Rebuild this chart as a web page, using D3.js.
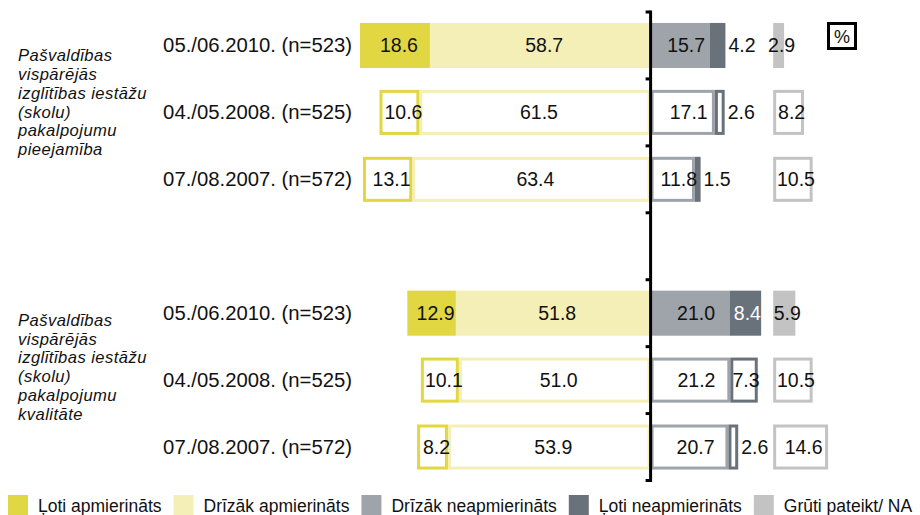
<!DOCTYPE html>
<html>
<head>
<meta charset="utf-8">
<script src="https://cdn.jsdelivr.net/npm/d3@7"></script>
<style>
  html, body { margin: 0; padding: 0; background: #fff; }
  svg text { font-family: "Liberation Sans", Arial, sans-serif; fill: #111; }
</style>
</head>
<body>
<svg id="chart" width="920" height="515"></svg>
<script>
// ---- data ----
const seriesNames = ["Ļoti apmierināts", "Drīzāk apmierināts", "Drīzāk neapmierināts", "Ļoti neapmierināts", "Grūti pateikt/ NA"];
const rowLabels = ["05./06.2010. (n=523)", "04./05.2008. (n=525)", "07./08.2007. (n=572)",
                   "05./06.2010. (n=523)", "04./05.2008. (n=525)", "07./08.2007. (n=572)"];
const groupLines = [
  ["Pašvaldības", "vispārējās", "izglītības iestāžu", "(skolu)", "pakalpojumu", "pieejamība"],
  ["Pašvaldības", "vispārējās", "izglītības iestāžu", "(skolu)", "pakalpojumu", "kvalitāte"]
];
const lotiApm     = [18.6, 10.6, 13.1, 12.9, 10.1, 8.2];
const drizakApm   = [58.7, 61.5, 63.4, 51.8, 51.0, 53.9];
const drizakNeapm = [15.7, 17.1, 11.8, 21.0, 21.2, 20.7];
const lotiNeapm   = [4.2, 2.6, 1.5, 8.4, 7.3, 2.6];
const gruti       = [2.9, 8.2, 10.5, 5.9, 10.5, 14.6];
const unitLabel = "%";

// ---- styles ----
const colors = ["#e0d743", "#f4eeb7", "#9ea4aa", "#69717a", "#c3c3c3"];
const svg = d3.select("#chart");

// slots: 3 rows, spacer, 3 rows
const slots = ["r0", "r1", "r2", "gap", "r3", "r4", "r5"];
const slotOf = i => "r" + i;
const y = d3.scaleBand().domain(slots).range([12, 480.5]).padding(0);
const barH = y.bandwidth() * 0.673;
const cy = i => y(slotOf(i)) + y.bandwidth() / 2;

const x = d3.scaleLinear().domain([-80, 40]).range([349.8, 801]); // x(0) ~ 650
const x0 = x(0);
const naOffset = 32.6; // start of "Grūti pateikt" column in value units

// build segments
const segs = [];
rowLabels.forEach((lab, i) => {
  const filled = (i % 3 === 0);
  const a = lotiApm[i], b = drizakApm[i], c = drizakNeapm[i], d = lotiNeapm[i], e = gruti[i];
  segs.push({ i, s: 1, v0: -b, v1: 0, v: b, filled });
  segs.push({ i, s: 0, v0: -(a + b), v1: -b, v: a, filled });
  segs.push({ i, s: 2, v0: 0, v1: c, v: c, filled });
  segs.push({ i, s: 3, v0: c, v1: c + d, v: d, filled });
  segs.push({ i, s: 4, v0: naOffset, v1: naOffset + e, v: e, filled });
});

const sw = 3;
const g = svg.append("g");
g.selectAll("rect.seg").data(segs).join("rect")
  .attr("class", "seg")
  .attr("x", d => d.filled ? x(d.v0) : x(d.v0) + sw / 2)
  .attr("y", d => d.filled ? cy(d.i) - barH / 2 : cy(d.i) - barH / 2 + sw / 2)
  .attr("width", d => d.filled ? x(d.v1) - x(d.v0) : Math.max(0.5, x(d.v1) - x(d.v0) - sw))
  .attr("height", d => d.filled ? barH : barH - sw)
  .attr("fill", d => d.filled ? colors[d.s] : "#fff")
  .attr("stroke", d => d.filled ? "none" : colors[d.s])
  .attr("stroke-width", sw);

// value labels
const numFont = 19.5;
g.selectAll("text.val").data(segs).join("text")
  .attr("class", "val")
  .attr("font-size", numFont)
  .attr("dominant-baseline", "central")
  .attr("text-anchor", d => (d.s === 3 && d.v < 5) ? "start" : "middle")
  .attr("x", d => {
    if (d.s === 3 && d.v < 5) return x(d.v1) + 3;
    const mid = (x(d.v0) + x(d.v1)) / 2;
    if (d.s === 2) return mid + 6;
    if (d.s === 4) return mid + 3;
    if (d.s === 3) return mid + 2;
    return mid + 4;
  })
  .attr("y", d => cy(d.i))
  .style("fill", d => (d.s === 3 && d.filled && d.v >= 5) ? "#fff" : "#111")
  .text(d => d.v.toFixed(1));

// center axis line with ticks
const yTop = y.range()[0], yBot = y.range()[1];
svg.append("line").attr("x1", x0).attr("x2", x0).attr("y1", yTop - 1.5).attr("y2", yBot + 1.5)
  .attr("stroke", "#000").attr("stroke-width", 3);
const tickYs = slots.map(s => y(s)).concat([yBot]);
svg.selectAll("line.tk").data(tickYs).join("line")
  .attr("class", "tk")
  .attr("x1", x0 - 5).attr("x2", x0)
  .attr("y1", d => d).attr("y2", d => d)
  .attr("stroke", "#000").attr("stroke-width", 3);

// row labels
svg.selectAll("text.row").data(rowLabels).join("text")
  .attr("class", "row")
  .attr("x", 352).attr("y", (d, i) => cy(i))
  .attr("text-anchor", "end").attr("dominant-baseline", "central")
  .attr("font-size", 20.3)
  .text(d => d);

// group labels
groupLines.forEach((lines, gi) => {
  const midRow = gi * 3 + 1;
  const base = cy(midRow) - 51.5 - gi * 3;
  svg.append("g").selectAll("text").data(lines).join("text")
    .attr("x", 18)
    .attr("y", (d, k) => base + k * 18.9)
    .attr("font-size", 16.6)
    .attr("letter-spacing", 0.45)
    .attr("font-style", "italic")
    .text(d => d);
});

// % box
svg.append("rect").attr("x", 828.5).attr("y", 23.5).attr("width", 27).attr("height", 25)
  .attr("fill", "#fff").attr("stroke", "#000").attr("stroke-width", 3);
svg.append("text").attr("x", 842).attr("y", 36.5).attr("text-anchor", "middle")
  .attr("dominant-baseline", "central").attr("font-size", 18).text(unitLabel);

// legend
const leg = svg.append("g");
let lx = 8;
seriesNames.forEach((name, k) => {
  leg.append("rect").attr("x", lx).attr("y", 495).attr("width", 20).attr("height", 20).attr("fill", colors[k]);
  const t = leg.append("text").attr("x", lx + 30).attr("y", 512).attr("font-size", 17.5).text(name);
  const w = t.node().getComputedTextLength();
  lx = lx + 30 + w + 12;
});
</script>
</body>
</html>
